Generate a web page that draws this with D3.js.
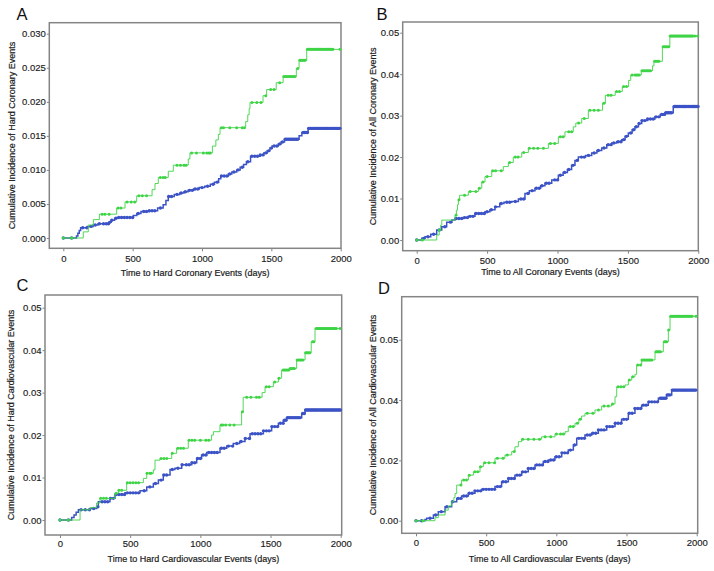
<!DOCTYPE html>
<html><head><meta charset="utf-8">
<script src="https://cdn.jsdelivr.net/npm/d3@7"></script>
<style>
body{margin:0;background:#fff}
svg{display:block}
text{font-family:"Liberation Sans",Arial,Helvetica,sans-serif}
</style>
</head><body>
<svg id="chart" width="714" height="571"></svg>
<script>
// ---------- DATA ----------
const xTicks = [0, 500, 1000, 1500, 2000];
const xTickLabels = ["0", "500", "1000", "1500", "2000"];
const yTicksA = [0, 0.005, 0.010, 0.015, 0.020, 0.025, 0.030];
const yTickLabelsA = ["0.000", "0.005", "0.010", "0.015", "0.020", "0.025", "0.030"];
const yTicksB = [0, 0.01, 0.02, 0.03, 0.04, 0.05];
const yTickLabelsB = ["0.00", "0.01", "0.02", "0.03", "0.04", "0.05"];
const yTicksC = [0, 0.01, 0.02, 0.03, 0.04, 0.05];
const yTickLabelsC = ["0.00", "0.01", "0.02", "0.03", "0.04", "0.05"];
const yTicksD = [0, 0.02, 0.04, 0.06];
const yTickLabelsD = ["0.00", "0.02", "0.04", "0.05"];

const panelLetters = ["A", "B", "C", "D"];
const xTitles = ["Time to Hard Coronary Events (days)", "Time to All Coronary Events (days)",
  "Time to Hard Cardiovascular Events (days)", "Time to All Cardiovascular Events (days)"];
const yTitles = ["Cumulative Incidence of Hard Coronary Events", "Cumulative Incidence of All Coronary Events",
  "Cumulative Incidence of Hard Cardiovascular Events", "Cumulative Incidence of All Cardiovascular Events"];

// step curves: [day, cumulative incidence]
const greenA = [[0,0],[144,0.0009],[180,0.0019],[217,0.0027],[260,0.0035],[385,0.0044],[445,0.0053],[529,0.0062],[640,0.0071],[661,0.0080],[685,0.0089],[757,0.0098],[793,0.0107],[901,0.0116],[913,0.0125],[1075,0.0135],[1100,0.0144],[1118,0.0152],[1130,0.0162],[1315,0.0171],[1330,0.0181],[1340,0.0190],[1346,0.0199],[1440,0.0209],[1466,0.0218],[1535,0.0228],[1585,0.0237],[1680,0.0249],[1700,0.0261],[1755,0.0277],[2000,0.0277]];
const blueA = [[0,0],[95,0.0003],[105,0.0007],[115,0.0011],[125,0.0015],[175,0.0017],[215,0.0019],[250,0.0021],[330,0.0023],[345,0.0026],[370,0.0029],[395,0.0030],[505,0.0033],[530,0.0036],[560,0.0039],[620,0.0040],[680,0.0044],[720,0.0049],[740,0.0055],[757,0.0061],[800,0.0064],[840,0.0066],[870,0.0068],[900,0.0070],[940,0.0072],[980,0.0074],[1020,0.0076],[1060,0.0079],[1090,0.0082],[1120,0.0087],[1135,0.0091],[1190,0.0094],[1215,0.0097],[1250,0.0100],[1275,0.0104],[1300,0.0108],[1320,0.0112],[1350,0.0120],[1420,0.0122],[1445,0.0125],[1470,0.0128],[1490,0.0132],[1505,0.0135],[1550,0.0138],[1570,0.0141],[1595,0.0145],[1700,0.0150],[1720,0.0155],[1765,0.0161],[2000,0.0161]];

const greenB = [[0,0],[142,0.0012],[160,0.0024],[170,0.0036],[178,0.0048],[272,0.0060],[282,0.0072],[290,0.0085],[296,0.0097],[305,0.0108],[367,0.0117],[438,0.0125],[462,0.0140],[485,0.0153],[533,0.0167],[615,0.0177],[651,0.0187],[686,0.0200],[746,0.0211],[793,0.0221],[935,0.0233],[1006,0.0249],[1053,0.0261],[1112,0.0273],[1130,0.0282],[1172,0.0293],[1219,0.0313],[1320,0.0330],[1340,0.0349],[1410,0.0358],[1460,0.0370],[1505,0.0385],[1520,0.0398],[1595,0.0408],[1675,0.0420],[1685,0.0431],[1745,0.0466],[1798,0.0492],[2000,0.0492]];
const blueB = [[0,0],[36,0.0004],[59,0.0008],[100,0.0014],[142,0.0024],[178,0.0032],[213,0.0043],[250,0.0048],[272,0.0052],[330,0.0054],[367,0.0057],[414,0.0064],[485,0.0068],[520,0.0073],[556,0.0080],[590,0.0088],[620,0.0091],[675,0.0093],[722,0.0099],[769,0.0112],[800,0.0119],[840,0.0125],[880,0.0131],[911,0.0137],[959,0.0145],[1006,0.0156],[1040,0.0163],[1070,0.0170],[1100,0.0180],[1124,0.0192],[1148,0.0200],[1200,0.0204],[1243,0.0210],[1280,0.0216],[1314,0.0222],[1350,0.0230],[1385,0.0234],[1420,0.0237],[1456,0.0242],[1480,0.0250],[1503,0.0258],[1530,0.0266],[1550,0.0273],[1575,0.0281],[1598,0.0288],[1640,0.0292],[1692,0.0297],[1730,0.0303],[1763,0.0307],[1822,0.0322],[2000,0.0322]];

const greenC = [[0,0],[143,0.0024],[214,0.0029],[260,0.0040],[285,0.0051],[392,0.0063],[416,0.0070],[475,0.0088],[594,0.0098],[618,0.0110],[665,0.0118],[677,0.0141],[713,0.0145],[796,0.0157],[831,0.0169],[914,0.0188],[1080,0.0200],[1093,0.0208],[1140,0.0224],[1294,0.0255],[1305,0.0289],[1440,0.0300],[1461,0.0314],[1520,0.0325],[1556,0.0334],[1579,0.0353],[1639,0.0357],[1686,0.0377],[1746,0.0394],[1790,0.0420],[1817,0.0451],[2000,0.0451]];
const blueC = [[0,0],[83,0.0006],[100,0.0012],[115,0.0018],[131,0.0024],[214,0.0027],[261,0.0031],[273,0.0043],[356,0.0051],[392,0.0060],[463,0.0064],[570,0.0069],[618,0.0078],[665,0.0086],[701,0.0094],[736,0.0106],[784,0.0119],[819,0.0122],[867,0.0130],[938,0.0135],[974,0.0145],[1009,0.0153],[1045,0.0159],[1140,0.0169],[1188,0.0174],[1235,0.0180],[1280,0.0185],[1318,0.0192],[1354,0.0203],[1449,0.0210],[1508,0.0220],[1556,0.0228],[1591,0.0235],[1615,0.0241],[1722,0.0251],[1746,0.0259],[2000,0.0259]];

const greenD = [[0,0],[135,0.0010],[159,0.0019],[207,0.0035],[230,0.0049],[254,0.0063],[270,0.0077],[278,0.0090],[290,0.0118],[325,0.0135],[373,0.0151],[409,0.0162],[456,0.0179],[480,0.0192],[563,0.0207],[634,0.0218],[682,0.0229],[705,0.0245],[729,0.0262],[753,0.0270],[895,0.0278],[990,0.0287],[1062,0.0295],[1085,0.0312],[1133,0.0323],[1160,0.0336],[1180,0.0347],[1204,0.0356],[1275,0.0367],[1323,0.0380],[1394,0.0387],[1418,0.0411],[1430,0.0444],[1489,0.0450],[1513,0.0466],[1537,0.0477],[1560,0.0485],[1572,0.0516],[1608,0.0533],[1703,0.0560],[1762,0.0593],[1798,0.0632],[1810,0.0678],[2000,0.0678]];
const blueD = [[0,0],[64,0.0004],[76,0.0008],[124,0.0019],[159,0.0030],[207,0.0046],[254,0.0063],[290,0.0074],[325,0.0082],[373,0.0091],[420,0.0099],[468,0.0104],[563,0.0113],[610,0.0129],[658,0.0140],[705,0.0151],[753,0.0162],[800,0.0173],[848,0.0185],[907,0.0196],[943,0.0201],[990,0.0212],[1038,0.0225],[1085,0.0234],[1121,0.0251],[1145,0.0273],[1204,0.0284],[1252,0.0290],[1299,0.0301],[1359,0.0312],[1418,0.0323],[1465,0.0336],[1513,0.0356],[1560,0.0372],[1608,0.0383],[1655,0.0394],[1727,0.0406],[1786,0.0417],[1822,0.0433],[2000,0.0433]];

// censoring marks (days)
const censorGreenA = [0,60,280,300,330,395,415,460,490,515,545,570,600,700,720,735,820,845,870,885,925,960,1010,1035,1050,1060,1140,1155,1200,1250,1290,1305,1360,1395,1425,1460,1495,1520,1560,1590,1600,1610,1620,1630,1640,1650,1660,1670,1690,1705,1712,1720,1728,1736,1744,1760,1768,1776,1784,1792,1800,1808,1816,1824,1832,1840,1848,1856,1864,1872,1880,1888,1896,1904,1912,1920,1928,1936,1944,1995];
const censorBlueA = [0,60,140,170,200,230,260,290,310,325,335,350,380,400,420,440,460,480,500,540,580,600,620,640,660,700,760,780,820,850,880,910,930,950,970,1000,1040,1080,1110,1140,1160,1180,1200,1230,1260,1290,1330,1360,1380,1400,1420,1440,1460,1480,1500,1520,1540,1560,1580,1600,1610,1620,1630,1640,1650,1660,1670,1680,1690,1730,1740,1750,1760,1770,1778,1786,1794,1802,1810,1818,1826,1834,1842,1850,1858,1866,1874,1882,1890,1898,1906,1914,1922,1930,1938,1946,1954,1962,1970,1978,1986,1994];
const censorGreenB = [0,40,160,280,300,340,380,420,445,470,500,540,560,600,660,700,720,760,800,830,860,900,950,980,1020,1040,1080,1100,1150,1190,1230,1260,1290,1330,1360,1380,1420,1440,1470,1490,1530,1550,1560,1570,1580,1600,1610,1620,1630,1640,1650,1660,1690,1700,1710,1720,1750,1760,1770,1780,1790,1800,1808,1816,1824,1832,1840,1848,1856,1864,1872,1880,1888,1896,1904,1912,1920,1928,1936,1944,1952,1960,1975,1995];
const censorBlueB = [0,50,80,120,160,200,240,280,300,320,340,360,380,400,420,440,460,480,500,530,560,600,640,660,700,740,760,790,820,850,870,890,920,940,980,1000,1020,1050,1080,1110,1140,1170,1190,1220,1260,1290,1330,1360,1380,1400,1430,1450,1470,1490,1520,1540,1560,1580,1600,1620,1640,1660,1680,1700,1720,1740,1750,1760,1770,1780,1790,1800,1810,1830,1838,1846,1854,1862,1870,1878,1886,1894,1902,1910,1918,1926,1934,1942,1950,1958,1966,1974,1982,1990,1998];
const censorGreenC = [0,60,290,310,330,400,420,440,480,500,520,540,560,620,640,650,720,740,760,800,840,860,880,920,940,960,1000,1040,1060,1150,1160,1180,1210,1240,1300,1330,1360,1400,1420,1470,1490,1530,1560,1590,1600,1610,1620,1630,1640,1650,1660,1670,1690,1700,1710,1720,1730,1750,1758,1766,1774,1780,1800,1808,1825,1833,1841,1849,1857,1865,1873,1881,1889,1897,1905,1913,1921,1929,1937,1945,1953,1961,1969,1995];
const censorBlueC = [0,60,150,180,210,240,270,300,320,340,360,380,400,420,440,460,480,500,520,540,560,600,640,680,720,740,760,800,840,870,900,920,940,960,980,1000,1020,1040,1060,1080,1100,1120,1150,1170,1200,1230,1260,1290,1320,1350,1370,1390,1410,1430,1450,1470,1490,1510,1530,1550,1570,1590,1600,1610,1620,1630,1640,1650,1660,1670,1680,1690,1700,1710,1730,1740,1750,1758,1766,1774,1782,1790,1798,1806,1814,1822,1830,1838,1846,1854,1862,1870,1878,1886,1894,1902,1910,1918,1926,1934,1942,1950,1958,1966,1974,1982,1990,1998];
const censorGreenD = [0,50,320,340,360,380,420,440,460,490,520,560,580,620,650,700,760,800,840,880,920,960,1000,1030,1050,1100,1120,1150,1170,1220,1260,1300,1340,1370,1400,1440,1460,1480,1520,1545,1580,1600,1610,1620,1630,1640,1650,1660,1670,1680,1710,1718,1726,1734,1742,1770,1778,1786,1800,1815,1823,1831,1839,1847,1855,1863,1871,1879,1887,1895,1903,1911,1919,1927,1935,1943,1951,1959,1967,1995];
const censorBlueD = [0,40,100,140,180,220,260,300,320,340,360,380,400,420,440,460,480,500,520,540,560,580,600,620,640,660,680,700,720,740,760,780,800,820,840,860,880,900,920,940,960,980,1000,1020,1040,1060,1080,1100,1130,1160,1180,1200,1220,1240,1260,1280,1300,1320,1340,1360,1380,1400,1420,1440,1460,1480,1500,1520,1540,1560,1580,1600,1620,1640,1660,1680,1700,1720,1740,1750,1760,1770,1780,1790,1800,1810,1826,1834,1842,1850,1858,1866,1874,1882,1890,1898,1906,1914,1922,1930,1938,1946,1954,1962,1970,1978,1986,1994];

// ---------- LAYOUT ----------
const GREEN = "#3ed446", BLUE = "#3c53c6", FRAME = "#858585", TXT = "#1c1c1c";
const panels = [
  {frame:[49.3,22.7,341,248.3], xr:[63.3,340.7], yd:[0,0.03], yr:[238,33.7], yTicks:yTicksA, yLabels:yTickLabelsA,
   letter:[16.5,20], xTitleY:276, yTitleX:14.5, xPad:4, green:greenA, blue:blueA, gc:censorGreenA, bc:censorBlueA},
  {frame:[402.7,22,698.3,250.7], xr:[416.7,698.3], yd:[0,0.05], yr:[240,32.7], yTicks:yTicksB, yLabels:yTickLabelsB,
   letter:[376.5,20], xTitleY:275, yTitleX:375.5, xPad:3.5, green:greenB, blue:blueB, gc:censorGreenB, bc:censorBlueB},
  {frame:[45,295,341.7,535], xr:[60,340.7], yd:[0,0.05], yr:[520,307.7], yTicks:yTicksC, yLabels:yTickLabelsC,
   letter:[16.5,291], xTitleY:561.5, yTitleX:14, xPad:2, green:greenC, blue:blueC, gc:censorGreenC, bc:censorBlueC},
  {frame:[401.7,296.7,697.7,533.3], xr:[416,696.7], yd:[0,0.06], yr:[520.7,339.7], yTicks:yTicksD, yLabels:yTickLabelsD,
   letter:[378,294], xTitleY:561.5, yTitleX:375.5, xPad:3, green:greenD, blue:blueD, gc:censorGreenD, bc:censorBlueD}
];

const svg = d3.select("#chart");
const bis = d3.bisector(d => d[0]).right;
const stepVal = (steps, day) => steps[Math.max(0, bis(steps, day) - 1)][1];

panels.forEach((p, i) => {
  const [l, t, r, b] = p.frame;
  const x = d3.scaleLinear().domain([0, 2000]).range(p.xr);
  const y = d3.scaleLinear().domain(p.yd).range(p.yr);
  const g = svg.append("g");

  const xa = g.append("g").attr("transform", `translate(0,${b})`)
    .call(d3.axisBottom(x).tickValues(xTicks).tickFormat((d, k) => xTickLabels[k]).tickSize(3).tickPadding(p.xPad));
  const ya = g.append("g").attr("transform", `translate(${l},0)`)
    .call(d3.axisLeft(y).tickValues(p.yTicks).tickFormat((d, k) => p.yLabels[k]).tickSize(2.5).tickPadding(1));
  [xa, ya].forEach(a => {
    a.select(".domain").remove();
    a.selectAll(".tick line").attr("stroke", FRAME).attr("stroke-width", 1);
    a.selectAll(".tick text").attr("fill", TXT).style("font-size", "9.5px")
      .attr("stroke", TXT).attr("stroke-width", 0.15);
  });

  g.append("rect").attr("x", l).attr("y", t).attr("width", r - l).attr("height", b - t)
    .attr("fill", "none").attr("stroke", FRAME).attr("stroke-width", 1.5);

  const clipId = "clip" + i;
  svg.append("clipPath").attr("id", clipId).append("rect")
    .attr("x", l).attr("y", t).attr("width", r - l + 2).attr("height", b - t);
  const plot = g.append("g").attr("clip-path", `url(#${clipId})`);

  const line = d3.line().x(d => x(d[0])).y(d => y(d[1])).curve(d3.curveStepAfter);
  const series = [
    {steps: p.blue, cens: p.bc, color: BLUE, w: 1.5, r: 1.7},
    {steps: p.green, cens: p.gc, color: GREEN, w: 0.9, r: 1.5}
  ];
  series.forEach(s => {
    plot.append("path").datum(s.steps).attr("d", line)
      .attr("fill", "none").attr("stroke", s.color).attr("stroke-width", s.w);
    plot.selectAll(null).data(s.cens).join("circle")
      .attr("cx", d => x(d)).attr("cy", d => y(stepVal(s.steps, d)))
      .attr("r", s.r).attr("fill", s.color);
  });

  g.append("text").attr("x", (l + r) / 2).attr("y", p.xTitleY).attr("text-anchor", "middle")
    .attr("fill", TXT).attr("stroke", TXT).attr("stroke-width", 0.2)
    .style("font-size", "9px").text(xTitles[i]);
  g.append("text").attr("transform", `translate(${p.yTitleX},${(t + b) / 2}) rotate(-90)`)
    .attr("text-anchor", "middle").attr("fill", TXT).attr("stroke", TXT).attr("stroke-width", 0.2)
    .style("font-size", "9px").text(yTitles[i]);
  g.append("text").attr("x", p.letter[0]).attr("y", p.letter[1])
    .attr("fill", "#111").style("font-size", "16.5px").text(panelLetters[i]);
});
</script>
</body></html>
